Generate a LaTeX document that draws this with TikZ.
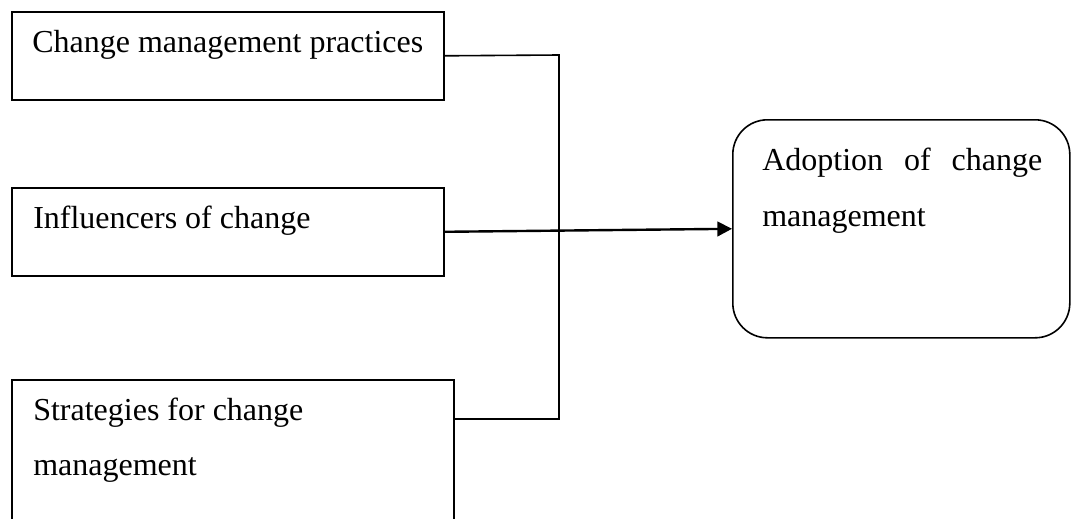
\documentclass[tikz,border=0pt]{standalone}
\usepackage{fontspec}
\setmainfont{Liberation Serif}
\usetikzlibrary{arrows.meta}
\begin{document}
\begin{tikzpicture}[x=0.75pt,y=-0.75pt,
  box/.style={draw,line width=1.2pt,inner sep=0pt,anchor=north west},
  txt/.style={anchor=base west,inner sep=0pt,font=\fontsize{24}{24}\selectfont},
  line/.style={draw,line width=1.2pt},
  arr/.style={draw,line width=1.8pt,-{Triangle[length=11pt,width=11pt]}}]
\useasboundingbox (0,0) rectangle (1071,518);
\clip (0,0) rectangle (1071,518);
% boxes
\node[box,minimum width=324pt,minimum height=66pt] (b1) at (11,11) {};
\node[box,minimum width=324pt,minimum height=66pt] (b2) at (11,187) {};
\node[box,minimum width=331.5pt,minimum height=150pt] (b3) at (11,379) {};
\node[box,minimum width=252.75pt,minimum height=163.5pt,rounded corners=26pt] (b4) at (732,119) {};
% texts
\node[txt] (t1) at (32,52) {Change management practices};
\node[txt] (t2) at (33,228) {Influencers of change};
\node[txt] (t3a) at (33,420) {Strategies for change};
\node[txt] (t3b) at (33,475) {management};
\node[txt] (t4a) at (762,170) {\makebox[210pt][s]{Adoption of change}};
\node[txt] (t4b) at (762,226) {management};
% connectors
\coordinate (j1) at (559,55);
\coordinate (j2) at (559,419);
\draw[line] (b1.east) -- (j1) -- (j2) -- (b3.north east |- j2);
\draw[arr] (b2.east) -- (b4.west);
\end{tikzpicture}
\end{document}
